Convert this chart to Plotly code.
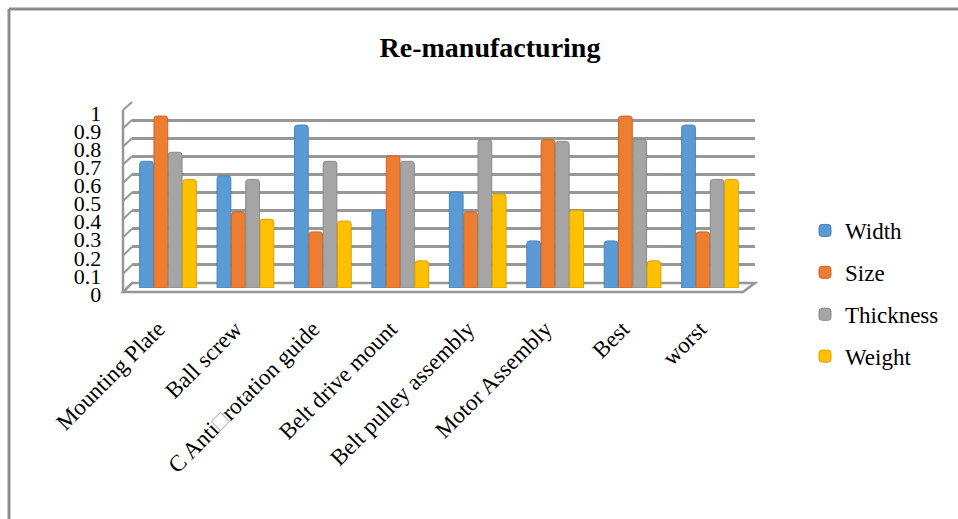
import plotly.graph_objects as go

# ---- data -------------------------------------------------------------
categories = ["Mounting Plate", "Ball screw", "C Anti\u25a1rotation guide",
              "Belt drive mount", "Belt pulley assembly", "Motor Assembly",
              "Best", "worst"]
width_vals = [0.70, 0.62, 0.90, 0.43, 0.53, 0.26, 0.26, 0.90]
size_vals = [0.95, 0.42, 0.31, 0.73, 0.42, 0.82, 0.95, 0.31]
thickness_vals = [0.75, 0.60, 0.70, 0.70, 0.82, 0.81, 0.82, 0.60]
weight_vals = [0.60, 0.38, 0.37, 0.15, 0.52, 0.43, 0.15, 0.60]
series_names = ["Width", "Size", "Thickness", "Weight"]
y_ticks = [0, 0.1, 0.2, 0.3, 0.4, 0.5, 0.6, 0.7, 0.8, 0.9, 1]
y_tick_labels = ["0", "0.1", "0.2", "0.3", "0.4", "0.5", "0.6", "0.7", "0.8", "0.9", "1"]

# ---- styling -------------------------------------------------------------
fill_colors = ["#5B9BD5", "#ED7D31", "#A5A5A5", "#FFC000"]
edge_colors = ["#4A84B8", "#C9672A", "#8A8A8A", "#D9A300"]
FONT = "Liberation Serif, Times New Roman, serif"
W, H = 958, 519


def px(x):
    return x / W


def py(y):
    return 1 - y / H


# tick text with the missing-glyph box shown in light grey
tick_text = [c.replace("\u25a1", "<span style='color:#b0b0b0'>\u25a1</span>")
             for c in categories]

fig = go.Figure()

# back wall subplot (gridlines only) - needs a trace so the subplot exists
fig.add_trace(go.Scatter(x=[], y=[], xaxis="x", yaxis="y", showlegend=False,
                         hoverinfo="skip"))

for name, vals, fc, ec in zip(series_names,
                              [width_vals, size_vals, thickness_vals, weight_vals],
                              fill_colors, edge_colors):
    fig.add_trace(go.Bar(
        x=categories, y=vals, name=name, xaxis="x2", yaxis="y2",
        marker=dict(color=fc, line=dict(color=ec, width=1), cornerradius=3),
        legendgroup=name,
    ))

shapes = []
grey = "#979797"
# floor of the 3-D box
shapes.append(dict(
    type="path", xref="paper", yref="paper", layer="below",
    path=(f"M{px(123)},{py(292)} L{px(743)},{py(292)} "
          f"L{px(755)},{py(283)} L{px(132)},{py(283)} Z"),
    line=dict(color=grey, width=2.5), fillcolor="white"))
# left side wall
shapes.append(dict(type="line", xref="paper", yref="paper", layer="below",
                   x0=px(123), x1=px(123), y0=py(292), y1=py(110),
                   line=dict(color=grey, width=2.5)))
for v in y_ticks:
    shapes.append(dict(type="line", xref="paper", yref="paper", layer="below",
                       x0=px(123), y0=py(292 - v * 182),
                       x1=px(132), y1=py(283 - v * 181),
                       line=dict(color=grey, width=2)))
# chart frame
frame = "#8c8c8c"
shapes.append(dict(type="line", xref="paper", yref="paper",
                   x0=px(9), x1=1, y0=py(9), y1=py(9),
                   line=dict(color=frame, width=3)))
shapes.append(dict(type="line", xref="paper", yref="paper",
                   x0=px(9), x1=px(9), y0=py(9), y1=0,
                   line=dict(color=frame, width=3)))

fig.update_layout(
    width=W, height=H,
    margin=dict(l=0, r=0, t=0, b=0, autoexpand=False),
    paper_bgcolor="white", plot_bgcolor="rgba(0,0,0,0)",
    font=dict(family=FONT, color="black", size=21),
    title=dict(text="<b>Re-manufacturing</b>", x=px(490), y=py(47),
               xanchor="center", yanchor="middle", xref="paper", yref="paper",
               automargin=False,
               font=dict(family=FONT, size=28, color="black")),
    barmode="group", bargap=0.26, bargroupgap=0.04,
    showlegend=True,
    legend=dict(x=px(805), y=py(209), xanchor="left", yanchor="top",
                font=dict(family=FONT, size=23), tracegroupgap=9,
                bgcolor="rgba(0,0,0,0)"),
    xaxis=dict(domain=[px(132), px(755)], range=[0, 1], anchor="y",
               showgrid=False, showticklabels=False, zeroline=False,
               showline=False, fixedrange=True, automargin=False),
    yaxis=dict(domain=[py(283), py(102)], range=[0, 1], anchor="x",
               tickvals=y_ticks, showgrid=True, gridcolor=grey, gridwidth=2.5,
               showticklabels=False, zeroline=False, showline=False,
               automargin=False),
    xaxis2=dict(domain=[px(129.3), px(748.7)], anchor="y2", type="category",
                tickvals=categories, ticktext=tick_text, tickangle=-45,
                tickfont=dict(family=FONT, size=23),
                ticklabelstandoff=22, ticklabelshift=-10,
                showgrid=False, showline=False,
                zeroline=False, automargin=False),
    yaxis2=dict(domain=[py(288), py(107)], anchor="x2", range=[0, 1],
                tickvals=y_ticks, ticktext=y_tick_labels,
                tickfont=dict(family=FONT, size=22),
                ticklabelstandoff=27, ticklabelshift=6,
                showgrid=False, zeroline=False, showline=False,
                automargin=False),
    shapes=shapes,
)

fig.write_html("out.html")
